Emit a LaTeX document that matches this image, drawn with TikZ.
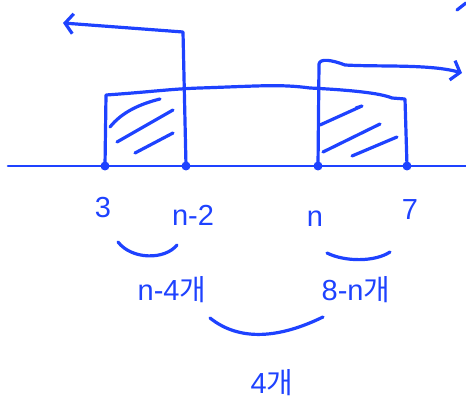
\documentclass[tikz,border=0pt]{standalone}
\usepackage{fontspec}
\setmainfont{Liberation Sans}
\newfontfamily\kr{Noto Sans CJK KR}
\usepackage{tikz}
\usetikzlibrary{arrows.meta}
\definecolor{ink}{RGB}{30,66,255}

\begin{document}
\begin{tikzpicture}[x=1pt, y=-1pt,
  pen/.style={draw=ink, line width=3.2pt, line cap=round, line join=round},
  dot/.style={circle, fill=ink, inner sep=0pt, minimum size=9pt},
  lbl/.style={text=ink, font=\fontsize{29}{32}\selectfont, inner sep=1pt},
  arr/.style={pen, -{Straight Barb[length=8pt, width=20pt, line width=3.2pt]}}]
\useasboundingbox (0,0) rectangle (466,411);
% number line
\coordinate (axl) at (8,166);
\coordinate (axr) at (466,166);
\draw[pen, line width=2.6pt] (axl) -- (axr);
\node[dot] (p3)  at (105,166) {};
\node[dot] (pn2) at (186,166) {};
\node[dot] (pn)  at (318,166) {};
\node[dot] (p7)  at (407,166) {};
% interval from 3 to 7
\draw[pen] (p3.center) -- (106,95) .. controls (150,92) and (170,89) .. (200,88)
  .. controls (260,86) and (280,84) .. (310,88) .. controls (350,90) and (380,93) .. (392,98)
  -- (405,99) -- (p7.center);
% rays
\draw[arr] (pn2.center) -- (183,32) -- (63,23);
\draw[arr] (pn.center) -- (319,64) .. controls (320,58) and (332,60) .. (345,65)
  .. controls (380,67) and (430,64) .. (462,73);
\draw[pen] (457,10) -- (466,3);
% hatching
\draw[pen] (110,127) .. controls (122,112) and (140,104) .. (160,99);
\draw[pen] (117,142) -- (173,110);
\draw[pen] (135,153) -- (173,133);
\draw[pen] (320,125) -- (362,106) -- (356,108);
\draw[pen] (323,152) -- (380,124);
\draw[pen] (352,156) -- (397,137);
% labels
\node[lbl] (l3)  at (103,208) {3};
\node[lbl] (ln2) at (193,215) {n-2};
\node[lbl] (ln)  at (315,219) {n};
\node[lbl] (l7)  at (410,210) {7};
\node[lbl] (c1)  at (172,290) {n-4{\kr 개}};
\node[lbl] (c2)  at (356,290) {8-n{\kr 개}};
\node[lbl] (c3)  at (272,383) {4{\kr 개}};
% braces
\draw[pen] (118,242) .. controls (132,260) and (165,260) .. (177,245);
\draw[pen] (327,253) .. controls (345,262) and (375,262) .. (390,252);
\draw[pen] (210,318) .. controls (240,342) and (280,338) .. (323,317);
\end{tikzpicture}
\end{document}
